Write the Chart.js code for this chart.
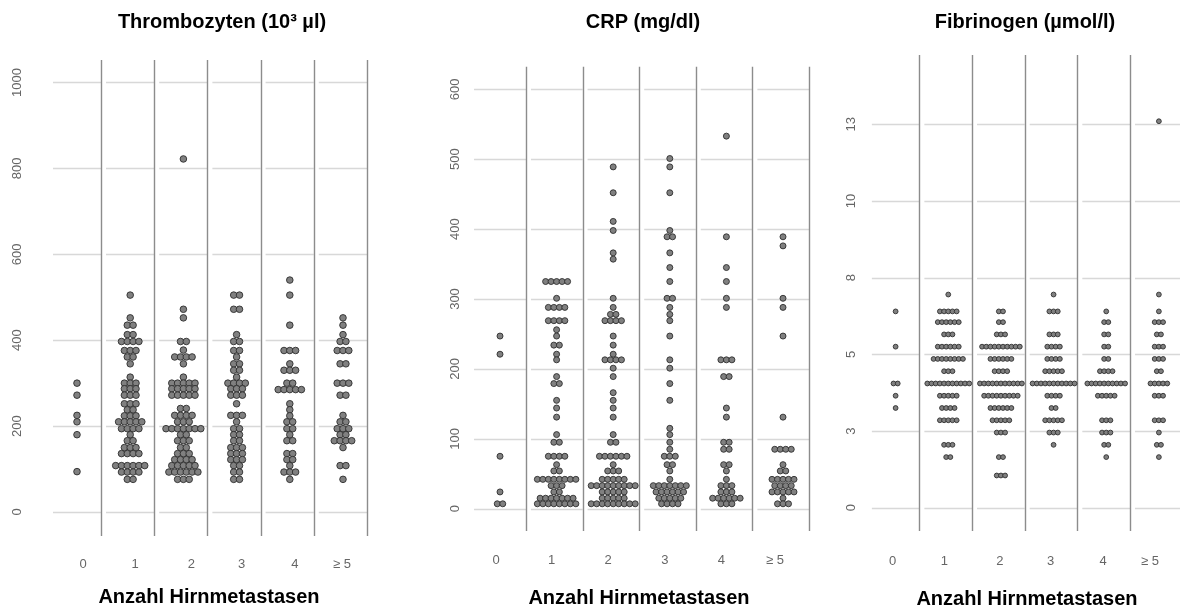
<!DOCTYPE html>
<html>
<head>
<meta charset="utf-8">
<script src="https://cdn.jsdelivr.net/npm/chart.js@4.4.1/dist/chart.umd.min.js"></script>
<style>
  html, body { margin: 0; padding: 0; background: #fff; }
  #wrap { position: relative; width: 1180px; height: 610px; overflow: hidden; }
  canvas { position: absolute; top: 0; }
</style>
</head>
<body>
<div id="wrap">
  <canvas id="thrombo" width="400" height="610" style="left:0px"></canvas>
  <canvas id="crp" width="440" height="610" style="left:400px"></canvas>
  <canvas id="fib" width="340" height="610" style="left:840px"></canvas>
</div>
<script>
// x categories (number of brain metastases)
const categories = ['0', '1', '2', '3', '4', '≥ 5'];

// each row of dots: [value, number of dots at that value]
// Thrombozyten (10^3 / µl)
const thromboTicks = [0, 200, 400, 600, 800, 1000];
const thromboTickLabels = ['0', '200', '400', '600', '800', '1000'];
const thrombo0 = [[300, 1], [272, 1], [225, 1], [210, 1], [180, 1], [94, 1]];
const thrombo1 = [[505, 1], [452, 1], [435, 2], [413, 2], [397, 4], [376, 3], [361, 2], [345, 1], [314, 1], [300, 3], [287, 3], [272, 3], [252, 3], [238, 2], [224, 3], [210, 5], [194, 4], [180, 1], [166, 2], [150, 3], [136, 4], [108, 6], [93, 4], [76, 2]];
const thrombo2 = [[822, 1], [472, 1], [452, 1], [397, 2], [377, 1], [361, 4], [345, 1], [314, 1], [300, 5], [287, 5], [272, 5], [241, 2], [225, 4], [210, 3], [194, 7], [180, 2], [166, 3], [150, 2], [136, 3], [122, 4], [108, 5], [93, 6], [76, 3]];
const thrombo3 = [[505, 2], [472, 2], [413, 1], [397, 2], [376, 2], [361, 1], [345, 2], [330, 2], [314, 1], [300, 4], [287, 3], [272, 3], [252, 1], [225, 3], [210, 1], [194, 2], [180, 2], [166, 2], [150, 3], [136, 3], [122, 3], [108, 2], [93, 2], [76, 2]];
const thrombo4 = [[540, 1], [505, 1], [435, 1], [376, 3], [345, 1], [330, 3], [300, 2], [285, 5], [252, 1], [238, 1], [224, 1], [210, 2], [194, 2], [180, 1], [166, 2], [136, 2], [122, 2], [108, 1], [93, 3], [76, 1]];
const thrombo5 = [[452, 1], [435, 1], [413, 1], [397, 2], [376, 3], [345, 2], [300, 3], [272, 2], [225, 1], [210, 2], [194, 3], [180, 2], [166, 4], [150, 1], [108, 2], [76, 1]];

// CRP (mg/dl)
const crpTicks = [0, 100, 200, 300, 400, 500, 600];
const crpTickLabels = ['0', '100', '200', '300', '400', '500', '600'];
const crp0 = [[247, 1], [221, 1], [75, 1], [24, 1], [7, 2]];
const crp1 = [[325, 5], [301, 1], [288, 4], [269, 4], [256, 1], [247, 1], [234, 2], [221, 1], [213, 1], [189, 1], [179, 2], [155, 1], [144, 1], [131, 1], [106, 1], [95, 2], [75, 4], [63, 1], [54, 2], [42, 8], [33, 3], [24, 2], [15, 7], [7, 8]];
const crp2 = [[489, 1], [452, 1], [411, 1], [398, 1], [366, 1], [357, 1], [301, 1], [288, 1], [278, 2], [269, 4], [247, 1], [234, 1], [221, 1], [213, 4], [201, 1], [189, 1], [166, 1], [155, 1], [144, 1], [131, 1], [106, 1], [95, 2], [75, 6], [63, 1], [54, 3], [42, 5], [33, 9], [24, 5], [15, 5], [7, 9]];
const crp3 = [[501, 1], [489, 1], [452, 1], [398, 1], [389, 2], [366, 1], [345, 1], [325, 1], [301, 2], [288, 1], [278, 1], [269, 1], [247, 1], [213, 1], [201, 1], [179, 1], [155, 1], [115, 1], [106, 1], [95, 1], [85, 1], [75, 3], [63, 2], [54, 1], [42, 1], [33, 7], [24, 6], [15, 5], [7, 4]];
const crp4 = [[533, 1], [389, 1], [345, 1], [325, 1], [301, 1], [288, 1], [213, 3], [189, 2], [144, 1], [131, 1], [95, 2], [85, 2], [63, 2], [54, 1], [42, 1], [33, 3], [24, 3], [15, 6], [7, 3]];
const crp5 = [[389, 1], [376, 1], [301, 1], [288, 1], [247, 1], [131, 1], [85, 4], [63, 1], [54, 2], [42, 5], [33, 4], [24, 5], [15, 1], [7, 3]];

// Fibrinogen (µmol/l)
const fibTicks = [0, 2.5, 5, 7.5, 10, 12.5];
const fibTickLabels = ['0', '3', '5', '8', '10', '13'];
const fib0 = [[6.4, 1], [5.25, 1], [4.05, 2], [3.65, 1], [3.25, 1]];
const fib1 = [[6.95, 1], [6.4, 5], [6.05, 6], [5.65, 3], [5.25, 6], [4.85, 8], [4.45, 3], [4.05, 11], [3.65, 5], [3.25, 4], [2.85, 5], [2.05, 3], [1.65, 2]];
const fib2 = [[6.4, 2], [6.05, 2], [5.65, 3], [5.25, 10], [4.85, 6], [4.45, 4], [4.05, 11], [3.65, 9], [3.25, 6], [2.85, 5], [2.45, 3], [1.65, 2], [1.05, 3]];
const fib3 = [[6.95, 1], [6.4, 3], [5.65, 3], [5.25, 4], [4.85, 4], [4.45, 5], [4.05, 11], [3.65, 4], [3.25, 2], [2.85, 5], [2.45, 3], [2.05, 1]];
const fib4 = [[6.4, 1], [6.05, 2], [5.65, 2], [5.25, 2], [4.85, 2], [4.45, 4], [4.05, 10], [3.65, 5], [2.85, 3], [2.45, 3], [2.05, 2], [1.65, 1]];
const fib5 = [[12.6, 1], [6.95, 1], [6.4, 1], [6.05, 3], [5.65, 2], [5.25, 3], [4.85, 3], [4.45, 2], [4.05, 5], [3.65, 3], [2.85, 3], [2.45, 1], [2.05, 2], [1.65, 1]];

const axisTitle = 'Anzahl Hirnmetastasen';
const FONT = '"Liberation Sans", Arial, sans-serif';

// stack the dots of one row side by side, centred on the category
function buildPoints(groups, spacing) {
    const pts = [];
    groups.forEach((rows, i) => {
        rows.forEach(([v, n]) => {
            for (let k = 0; k < n; k++) {
                pts.push({ x: i + (k - (n - 1) / 2) * spacing, y: v });
            }
        });
    });
    return pts;
}

function facetPlugin(cfg) {
    return {
        id: 'facet',
        beforeDatasetsDraw(chart) {
            const ctx = chart.ctx;
            const xs = chart.scales.x;
            const ys = chart.scales.y;
            const area = chart.chartArea;
            ctx.save();
            // horizontal grid, broken at every facet border
            ctx.strokeStyle = '#d8d8d8';
            ctx.lineWidth = 1.6;
            cfg.ticks.forEach(v => {
                const y = Math.round(ys.getPixelForValue(v)) + 0.5;
                for (let i = 0; i < categories.length; i++) {
                    const l = i === 0 ? xs.getPixelForValue(-cfg.half) : xs.getPixelForValue(i - 1 + cfg.half) + 5;
                    const r = xs.getPixelForValue(i + cfg.half);
                    ctx.beginPath();
                    ctx.moveTo(l, y);
                    ctx.lineTo(r, y);
                    ctx.stroke();
                }
            });
            // facet borders
            ctx.strokeStyle = '#8c8c8c';
            ctx.lineWidth = 1.4;
            for (let i = 0; i < categories.length; i++) {
                const x = Math.round(xs.getPixelForValue(i + cfg.half)) + 0.5;
                ctx.beginPath();
                ctx.moveTo(x, area.top);
                ctx.lineTo(x, area.bottom);
                ctx.stroke();
            }
            ctx.restore();
        },
        afterDraw(chart) {
            const ctx = chart.ctx;
            const xs = chart.scales.x;
            const ys = chart.scales.y;
            const L = cfg.canvasLeft;
            ctx.save();
            ctx.fillStyle = '#666';
            ctx.font = '13px ' + FONT;
            ctx.textAlign = 'center';
            ctx.textBaseline = 'middle';
            // y tick labels, rotated
            cfg.ticks.forEach((v, k) => {
                ctx.save();
                ctx.translate(cfg.yLabelX - L, ys.getPixelForValue(v));
                ctx.rotate(-Math.PI / 2);
                ctx.fillText(cfg.tickLabels[k], 0, 0);
                ctx.restore();
            });
            // category labels
            categories.forEach((c, i) => {
                ctx.fillText(c, xs.getPixelForValue(i) + cfg.labelShift[i], cfg.xLabelY);
            });
            // titles
            ctx.fillStyle = '#000';
            ctx.font = 'bold 20px ' + FONT;
            ctx.fillText(cfg.title, cfg.titleX - L, 22);
            ctx.fillText(axisTitle, cfg.axisTitleX - L, cfg.axisTitleY);
            ctx.restore();
        }
    };
}

function makePanel(id, cfg) {
    const canvas = document.getElementById(id);
    const W = canvas.width, H = canvas.height;
    const L = cfg.canvasLeft;
    const areaLeft = cfg.c0 + cfg.xMin * cfg.step - L;
    const areaRight = cfg.c0 + cfg.xMax * cfg.step - L;
    const pxPerUnit = (cfg.yPx0 - cfg.yPx1) / (cfg.yVal1 - cfg.yVal0);
    const yMax = cfg.yVal1 + (cfg.yPx1 - cfg.top) / pxPerUnit;
    const yMin = cfg.yVal0 - (cfg.bottom - cfg.yPx0) / pxPerUnit;

    new Chart(canvas, {
        type: 'scatter',
        data: {
            datasets: [{
                data: buildPoints(cfg.groups, cfg.dotGap / cfg.step),
                pointRadius: cfg.radius,
                pointHoverRadius: cfg.radius,
                pointBackgroundColor: '#808080',
                pointBorderColor: '#2e2e2e',
                pointBorderWidth: 0.9
            }]
        },
        options: {
            responsive: false,
            animation: false,
            events: [],
            layout: {
                padding: { left: areaLeft, right: W - areaRight, top: cfg.top, bottom: H - cfg.bottom }
            },
            scales: {
                x: { type: 'linear', display: false, min: cfg.xMin, max: cfg.xMax },
                y: { type: 'linear', display: false, min: yMin, max: yMax }
            },
            plugins: { legend: { display: false }, tooltip: { enabled: false } }
        },
        plugins: [facetPlugin(cfg)]
    });
}

makePanel('thrombo', {
    canvasLeft: 0, title: 'Thrombozyten (10³ µl)', titleX: 222,
    groups: [thrombo0, thrombo1, thrombo2, thrombo3, thrombo4, thrombo5],
    ticks: thromboTicks, tickLabels: thromboTickLabels,
    c0: 77, step: 53.2, half: 0.451, xMin: -0.7, xMax: 5.7,
    yVal0: 0, yPx0: 512, yVal1: 1000, yPx1: 82.5, top: 60, bottom: 536,
    yLabelX: 17, xLabelY: 564, labelShift: [6, 5, 8, 5, 5, -1],
    axisTitleX: 209, axisTitleY: 597, radius: 3.3, dotGap: 5.8
});

makePanel('crp', {
    canvasLeft: 400, title: 'CRP (mg/dl)', titleX: 643,
    groups: [crp0, crp1, crp2, crp3, crp4, crp5],
    ticks: crpTicks, tickLabels: crpTickLabels,
    c0: 500, step: 56.6, half: 0.459, xMin: -0.7, xMax: 5.7,
    yVal0: 0, yPx0: 508.7, yVal1: 600, yPx1: 89.3, top: 66.7, bottom: 531,
    yLabelX: 455, xLabelY: 560, labelShift: [-4, -5, -5, -5, -5, -8],
    axisTitleX: 639, axisTitleY: 598, radius: 3.0, dotGap: 5.5
});

makePanel('fib', {
    canvasLeft: 840, title: 'Fibrinogen (µmol/l)', titleX: 1025,
    groups: [fib0, fib1, fib2, fib3, fib4, fib5],
    ticks: fibTicks, tickLabels: fibTickLabels,
    c0: 896, step: 53.2, half: 0.451, xMin: -0.7, xMax: (1180 - 896) / 53.2,
    yVal0: 0, yPx0: 507.7, yVal1: 12.5, yPx1: 124.3, top: 55, bottom: 531,
    yLabelX: 851, xLabelY: 561, labelShift: [-3, -4, -1, -3, -3, -9],
    axisTitleX: 1027, axisTitleY: 599, radius: 2.4, dotGap: 4.24
});
</script>
</body>
</html>
